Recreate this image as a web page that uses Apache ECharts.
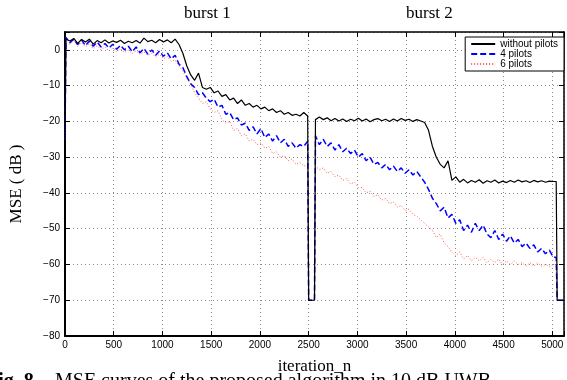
<!DOCTYPE html>
<html>
<head>
<meta charset="utf-8">
<script src="https://cdn.jsdelivr.net/npm/echarts@6/dist/echarts.min.js"></script>
<style>
  html, body { margin: 0; padding: 0; background: #fff; }
  #main { width: 567px; height: 380px; }
</style>
</head>
<body>
<div id="main"></div>
<script>
// sampled every 40 iterations, burst 1 from n=10, burst 2 from n=2570
const startVal = -25;
const gapVal = -70;

const blackB1 = [3, 2.5, 3.2, 1.8, 2.9, 2.2, 3.0, 1.6, 2.6, 2.0, 2.8, 1.9, 2.5,
  2.1, 2.7, 1.8, 2.4, 2.0, 2.6, 1.9, 3.3, 2.3, 2.7, 2.0, 2.9, 2.2, 2.8, 2.0, 3.0, 1.5,
  -1.0, -4.5, -7.0, -8.5, -6.5, -10.5, -11.0, -10.5, -12.0, -11.5, -13.0, -12.5, -14.0,
  -13.5, -15.0, -14.0, -15.5, -15.0, -16.0, -15.5, -16.5, -16.0, -17.0, -16.5, -17.5,
  -17.0, -18.0, -17.5, -18.3, -18.0, -18.5, -17.5, -18.5];
const blackB2 = [-19.5, -18.8, -19.5, -19.0, -19.8, -19.2, -19.9, -19.3, -20.0, -19.4,
  -19.8, -19.1, -19.9, -19.3, -20.1, -19.5, -19.2, -19.8, -19.4, -20.0, -19.3, -19.9,
  -19.2, -19.7, -19.4, -20.0, -19.5, -19.9, -20.3,
  -22.5, -27.0, -30.0, -32.0, -33.0, -31.0, -36.5, -35.5, -37.0, -36.2, -37.2, -36.5,
  -37.0, -36.3, -37.3, -36.6, -37.0, -36.4, -37.2, -36.7, -37.1, -36.5, -37.0, -36.4,
  -36.9, -36.6, -37.1, -36.5, -36.9, -36.6, -37.0, -36.7, -36.8];

const blueB1 = [3.5, 2.0, 3.0, 1.5, 2.8, 1.2, 2.5, 1.0, 2.2, 0.8, 1.8, 0.5, 1.6,
  0.2, 1.3, 0.0, 1.0, -0.5, 0.8, -0.8, 0.4, -1.2, 0.0, -1.5, -0.3, -1.8, -0.8, -2.5, -1.5, -4.0,
  -5.0, -7.5, -9.5, -10.5, -12.5, -12.0, -13.5, -14.5, -13.8, -16.0, -15.5, -18.0, -17.5,
  -19.5, -19.0, -21.0, -20.5, -22.5, -21.5, -23.5, -22.0, -24.5, -23.5, -25.5, -24.0,
  -26.0, -25.0, -27.0, -26.0, -27.5, -26.5, -27.0, -25.5];
const blueB2 = [-24.0, -26.5, -25.0, -27.0, -26.0, -28.0, -26.5, -28.5, -27.5, -29.0,
  -28.0, -30.0, -29.0, -31.0, -30.0, -32.0, -31.5, -33.0, -32.0, -33.5, -32.5, -34.0,
  -33.0, -34.5, -33.5, -35.0, -34.0, -35.5, -37.0,
  -39.0, -41.5, -43.0, -45.0, -44.0, -47.0, -46.0, -48.5, -47.5, -50.5, -49.0, -51.0,
  -48.5, -50.5, -49.0, -51.5, -52.5, -50.5, -53.0, -51.5, -53.5, -52.0, -54.0, -53.0,
  -55.0, -54.0, -55.5, -54.5, -56.5, -55.5, -57.0, -56.0, -58.0];

const redB1 = [2.5, 1.5, 2.8, 1.0, 2.0, 0.8, 1.8, 0.3, 1.2, 0.0, 0.8, -0.3, 0.5,
  -0.5, 0.3, -0.8, 0.0, -1.0, -0.3, -1.3, -0.6, -1.6, -0.9, -2.0, -1.2, -2.5, -1.8, -3.2, -2.8, -4.5,
  -6.0, -8.0, -9.5, -12.0, -13.5, -15.0, -14.5, -16.5, -17.5, -17.0, -19.5, -20.5, -20.0,
  -22.5, -22.0, -24.0, -23.5, -25.5, -25.0, -26.5, -26.0, -27.5, -27.0, -29.0, -28.5,
  -30.0, -29.5, -31.0, -30.5, -32.0, -31.5, -32.5, -32.0];
const redB2 = [-32.5, -33.5, -33.0, -34.5, -34.0, -35.5, -35.0, -36.5, -36.0, -37.5,
  -37.0, -38.5, -38.5, -40.0, -39.5, -41.0, -40.5, -42.0, -41.5, -43.0, -42.5, -44.0,
  -43.5, -45.0, -44.5, -46.0, -46.5, -47.5, -48.5,
  -49.5, -50.5, -52.5, -51.5, -54.0, -55.0, -56.5, -57.5, -56.5, -58.5, -57.5, -59.0,
  -58.0, -59.0, -58.0, -59.5, -58.5, -59.5, -58.5, -60.0, -59.0, -60.0, -59.0, -60.0,
  -59.5, -60.5, -59.5, -60.5, -59.5, -60.5, -60.0, -60.5, -60.0];

const xTicks = { min: 0, max: 5120, step: 500 };
const yTicks = { min: -80, max: 5, step: 10 };

function build(b1, b2) {
  const pts = [[0, startVal]];
  b1.forEach((v, i) => pts.push([10 + i * 40, v]));
  pts.push([2500, gapVal], [2560, gapVal]);
  b2.forEach((v, i) => pts.push([2570 + i * 40, v]));
  pts.push([5040, b2[b2.length - 1]], [5050, gapVal], [5120, gapVal]);
  return pts;
}

const myChart = echarts.init(document.querySelector('#main'));
const dotted = { color: '#8a8a8a', type: [1, 3], width: 1 };
const serif = '"Liberation Serif", "DejaVu Serif", serif';
const sans = '"Liberation Sans", Arial, sans-serif';

const option = {
  animation: false,
  grid: { left: 64, right: 1, top: 32, bottom: 38 },
  legend: {
    data: ['without pilots', '4 pilots', '6 pilots'],
    orient: 'vertical',
    right: 3, top: 37,
    itemGap: 0, itemWidth: 24, itemHeight: 8,
    padding: [2, 6, 2, 5],
    borderColor: '#000', borderWidth: 1, backgroundColor: '#fff',
    itemStyle: { opacity: 0 },
    textStyle: { fontSize: 10, fontFamily: sans, color: '#000', padding: [0, 0, 0, 0] }
  },
  xAxis: [{
    type: 'value', min: xTicks.min, max: xTicks.max, interval: xTicks.step,
    name: 'iteration_n', nameLocation: 'middle', nameGap: 22,
    nameTextStyle: { fontFamily: serif, fontSize: 17, color: '#000' },
    axisLine: { onZero: false, lineStyle: { color: '#000', width: 2 } },
    axisTick: { inside: true, length: 5, lineStyle: { color: '#000' } },
    axisLabel: { fontSize: 10, fontFamily: sans, color: '#000', margin: 4,
      formatter: v => (v > 5000 ? '' : String(v)) },
    splitLine: { show: true, lineStyle: dotted }
  }, {
    type: 'value', position: 'top', min: xTicks.min, max: xTicks.max, interval: xTicks.step,
    axisLine: { show: true, onZero: false, lineStyle: { color: '#000', width: 1.5 } },
    axisTick: { inside: true, length: 5, lineStyle: { color: '#000' } },
    axisLabel: { show: false }, splitLine: { show: false }
  }],
  yAxis: [{
    type: 'value', min: yTicks.min, max: yTicks.max, interval: yTicks.step,
    name: 'MSE ( dB )', nameLocation: 'middle', nameGap: 40, nameRotate: 90,
    nameTextStyle: { fontFamily: serif, fontSize: 17, color: '#000' },
    axisLine: { onZero: false, lineStyle: { color: '#000', width: 2 } },
    axisTick: { inside: true, length: 5, lineStyle: { color: '#000' } },
    axisLabel: { fontSize: 10, fontFamily: sans, color: '#000', margin: 5,
      formatter: v => (v > 0 ? '' : v < 0 ? '\u2212' + (-v) : '0') },
    splitLine: { show: true, lineStyle: dotted }
  }, {
    type: 'value', position: 'right', min: yTicks.min, max: yTicks.max, interval: yTicks.step,
    axisLine: { show: true, onZero: false, lineStyle: { color: '#000', width: 1.5 } },
    axisTick: { inside: true, length: 5, lineStyle: { color: '#000' } },
    axisLabel: { show: false }, splitLine: { show: false }
  }],
  graphic: [
    { type: 'text', left: 184, top: 5, style: { text: 'burst 1', font: '17px ' + serif, fill: '#000' } },
    { type: 'text', left: 406, top: 5, style: { text: 'burst 2', font: '17px ' + serif, fill: '#000' } },
    { type: 'text', left: -14, top: 372, style: { text: 'Fig. 8.', font: 'bold 20px ' + serif, fill: '#000' } },
    { type: 'text', left: 55, top: 372, style: { text: 'MSE curves of the proposed algorithm in 10 dB UWB', font: '20px ' + serif, fill: '#000' } }
  ],
  series: [
    { name: '6 pilots', type: 'line', data: build(redB1, redB2), showSymbol: false, symbol: 'none',
      lineStyle: { color: '#ff5555', width: 1, type: [1, 2] }, itemStyle: { color: '#ff5555' } },
    { name: '4 pilots', type: 'line', data: build(blueB1, blueB2), showSymbol: false, symbol: 'none',
      lineStyle: { color: '#0000ff', width: 1.5, type: [6, 3] }, itemStyle: { color: '#0000ff' } },
    { name: 'without pilots', type: 'line', data: build(blackB1, blackB2), showSymbol: false, symbol: 'none',
      lineStyle: { color: '#000', width: 1.2 }, itemStyle: { color: '#000' } }
  ]
};
option && myChart.setOption(option);
</script>
</body>
</html>
